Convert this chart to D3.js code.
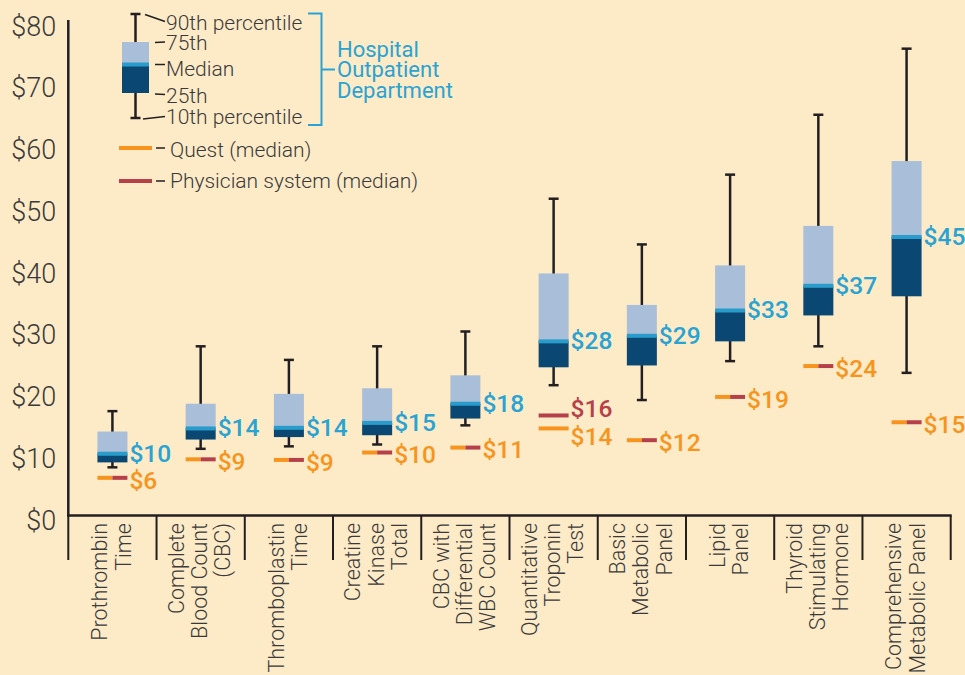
<!DOCTYPE html>
<html>
<head>
<meta charset="utf-8">
<script src="https://cdn.jsdelivr.net/npm/d3@7/dist/d3.min.js"></script>
<style>
  html, body { margin: 0; padding: 0; background: #fdebc8; }
  svg { display: block; font-family: Roboto, "Liberation Sans", sans-serif; }
</style>
</head>
<body>
<svg width="965" height="675"></svg>
<script>
// lab tests, one line of text per array item
var categories = [
  ["Prothrombin", "Time"],
  ["Complete", "Blood Count", "(CBC)"],
  ["Thromboplastin", "Time"],
  ["Creatine", "Kinase", "Total"],
  ["CBC with", "Differential", "WBC Count"],
  ["Quantitative", "Troponin", "Test"],
  ["Basic", "Metabolic", "Panel"],
  ["Lipid", "Panel"],
  ["Thyroid", "Stimulating", "Hormone"],
  ["Comprehensive", "Metabolic Panel"]
];

// hospital outpatient department prices
var p10    = [7.8, 10.8, 11.2, 11.5, 14.6, 21.1, 18.7, 25.0, 27.4, 23.1];
var p25    = [8.6, 12.3, 12.7, 13.0, 15.7, 24.0, 24.3, 28.2, 32.4, 35.5];
var median = [10.0, 14.1, 14.2, 15.0, 18.1, 28.2, 29.1, 33.2, 37.2, 45.1];
var p75    = [13.6, 18.1, 19.7, 20.6, 22.7, 39.2, 34.1, 40.5, 46.9, 57.4];
var p90    = [16.9, 27.4, 25.2, 27.4, 29.8, 51.3, 43.9, 55.2, 64.9, 75.6];

// medians for the other settings
var quest     = [6.1, 9.1, 9.0, 10.2, 11.0, 14.1, 12.2, 19.2, 24.2, 15.1];
var physician = [6.1, 9.1, 9.0, 10.2, 11.0, 16.2, 12.2, 19.2, 24.2, 15.1];

var yTicks = [0, 10, 20, 30, 40, 50, 60, 70, 80];

var colors = {
  light: "#a9bed9",
  band: "#2a9ccb",
  dark: "#0a4873",
  ink: "#231f20",
  quest: "#f7941d",
  phys: "#b5404a",
  blue: "#29a3d2",
  text: "#3a3a3a"
};

var svg = d3.select("svg");

var data = categories.map(function(c, i) {
  return { lines: c, p10: p10[i], p25: p25[i], med: median[i], p75: p75[i], p90: p90[i], quest: quest[i], phys: physician[i] };
});

var x = d3.scaleBand().domain(d3.range(categories.length)).range([68.3, 950.7]).padding(0);
var y = d3.scaleLinear().domain([0, 80]).range([515.5, 21.5]);
var boxW = 30;

// y axis labels
var yAxis = svg.append("g")
  .attr("transform", "translate(68.3,5)")
  .call(d3.axisLeft(y).tickValues(yTicks).tickSize(0).tickPadding(12).tickFormat(function(d) { return "$" + d; }));
yAxis.select(".domain").remove();
yAxis.selectAll("text")
  .attr("fill", colors.text)
  .style("font-size", "27px")
  .style("font-weight", 300)
  .style("font-family", "Roboto, 'Liberation Sans', sans-serif");

// axis lines
svg.append("line")
  .attr("x1", 68.3).attr("x2", 68.3).attr("y1", 20).attr("y2", 516.5)
  .attr("stroke", colors.ink).attr("stroke-width", 2.5);
svg.append("line")
  .attr("x1", 67).attr("x2", x.range()[1] + 1).attr("y1", 515.5).attr("y2", 515.5)
  .attr("stroke", colors.ink).attr("stroke-width", 2.5);

// category separators below axis
var bounds = x.domain().map(function(d) { return x(d); }).concat([x.range()[1]]);
svg.selectAll("line.sep").data(bounds).enter().append("line")
  .attr("class", "sep")
  .attr("x1", function(d) { return d; }).attr("x2", function(d) { return d; })
  .attr("y1", 515.5).attr("y2", 560)
  .attr("stroke", colors.ink).attr("stroke-width", 2);

// category labels, rotated
var lab = svg.selectAll("g.xlab").data(data).enter().append("g")
  .attr("class", "xlab")
  .attr("transform", function(d, i) { return "translate(" + (x(i) + x.bandwidth() / 2 - 1) + ",523) rotate(-90)"; });
lab.each(function(d) {
  var g = d3.select(this);
  var n = d.lines.length;
  d.lines.forEach(function(t, j) {
    g.append("text")
      .attr("x", 0)
      .attr("y", (j - (n - 1) / 2) * 23.3)
      .attr("dy", "0.35em")
      .attr("text-anchor", "end")
      .attr("fill", colors.text)
      .style("font-size", "21.5px")
      .style("font-weight", 300)
      .text(t);
  });
});

// boxes
var box = svg.selectAll("g.box").data(data).enter().append("g")
  .attr("class", "box")
  .attr("transform", function(d, i) { return "translate(" + (x(i) + x.bandwidth() / 2) + ",0)"; });

box.append("line")
  .attr("x1", 0).attr("x2", 0)
  .attr("y1", function(d) { return y(d.p90); })
  .attr("y2", function(d) { return y(d.p10); })
  .attr("stroke", colors.ink).attr("stroke-width", 2.5);
box.append("line")
  .attr("x1", -5).attr("x2", 5)
  .attr("y1", function(d) { return y(d.p90); }).attr("y2", function(d) { return y(d.p90); })
  .attr("stroke", colors.ink).attr("stroke-width", 2.5);
box.append("line")
  .attr("x1", -5).attr("x2", 5)
  .attr("y1", function(d) { return y(d.p10); }).attr("y2", function(d) { return y(d.p10); })
  .attr("stroke", colors.ink).attr("stroke-width", 2.5);

box.append("rect")
  .attr("x", -boxW / 2).attr("width", boxW)
  .attr("y", function(d) { return y(d.p75); })
  .attr("height", function(d) { return y(d.med) - y(d.p75); })
  .attr("fill", colors.light);
box.append("rect")
  .attr("x", -boxW / 2).attr("width", boxW)
  .attr("y", function(d) { return y(d.med); })
  .attr("height", function(d) { return y(d.p25) - y(d.med); })
  .attr("fill", colors.dark);
box.append("rect")
  .attr("x", -boxW / 2).attr("width", boxW)
  .attr("y", function(d) { return y(d.med) - 2; })
  .attr("height", 4)
  .attr("fill", colors.band);

var valFont = "24.5px";
var valWeight = 500;
box.append("text")
  .attr("x", boxW / 2 + 2)
  .attr("y", function(d) { return y(d.med) - 1; })
  .attr("dy", "0.36em")
  .attr("fill", colors.blue)
  .style("font-size", valFont)
  .style("font-weight", valWeight)
  .text(function(d) { return "$" + Math.round(d.med); });

// quest / physician medians
box.each(function(d) {
  var g = d3.select(this);
  var yq = y(d.quest), yp = y(d.phys);
  if (Math.round(d.quest) === Math.round(d.phys)) {
    g.append("line").attr("x1", -boxW / 2).attr("x2", 0).attr("y1", yq).attr("y2", yq)
      .attr("stroke", colors.quest).attr("stroke-width", 4);
    g.append("line").attr("x1", 0).attr("x2", boxW / 2).attr("y1", yp).attr("y2", yp)
      .attr("stroke", colors.phys).attr("stroke-width", 4);
    g.append("text").attr("x", boxW / 2 + 2).attr("y", yq + 2).attr("dy", "0.36em")
      .attr("fill", colors.quest).style("font-size", valFont).style("font-weight", valWeight)
      .text("$" + Math.round(d.quest));
  } else {
    var gap = Math.max(0, (28 - Math.abs(yq - yp)) / 2);
    var sq = yq > yp ? 1 : -1;
    g.append("line").attr("x1", -boxW / 2).attr("x2", boxW / 2).attr("y1", yp).attr("y2", yp)
      .attr("stroke", colors.phys).attr("stroke-width", 4);
    g.append("line").attr("x1", -boxW / 2).attr("x2", boxW / 2).attr("y1", yq).attr("y2", yq)
      .attr("stroke", colors.quest).attr("stroke-width", 4);
    g.append("text").attr("x", boxW / 2 + 2).attr("y", yp - sq * gap).attr("dy", "0.36em")
      .attr("fill", colors.phys).style("font-size", valFont).style("font-weight", valWeight)
      .text("$" + Math.round(d.phys));
    g.append("text").attr("x", boxW / 2 + 2).attr("y", yq + sq * gap).attr("dy", "0.36em")
      .attr("fill", colors.quest).style("font-size", valFont).style("font-weight", valWeight)
      .text("$" + Math.round(d.quest));
  }
});

// legend
var lg = svg.append("g");
var lx = 135.5;
lg.append("line").attr("x1", lx).attr("x2", lx).attr("y1", 14).attr("y2", 118)
  .attr("stroke", colors.ink).attr("stroke-width", 2.5);
[14, 118].forEach(function(v) {
  lg.append("line").attr("x1", lx - 5).attr("x2", lx + 5).attr("y1", v).attr("y2", v)
    .attr("stroke", colors.ink).attr("stroke-width", 2.5);
});
lg.append("rect").attr("x", 122).attr("y", 42).attr("width", 27).attr("height", 21).attr("fill", colors.light);
lg.append("rect").attr("x", 122).attr("y", 63).attr("width", 27).attr("height", 30).attr("fill", colors.dark);
lg.append("rect").attr("x", 122).attr("y", 62.5).attr("width", 27).attr("height", 4).attr("fill", colors.band);

var leaders = [
  [145, 14.5, 165, 21.5],
  [155, 42.5, 165, 42],
  [155, 64.5, 165, 64.5],
  [155, 94, 165, 94.5],
  [143, 119, 165, 116.5],
  [156, 148, 165, 148],
  [156, 181, 165, 181]
];
leaders.forEach(function(l) {
  lg.append("line").attr("x1", l[0]).attr("y1", l[1]).attr("x2", l[2]).attr("y2", l[3])
    .attr("stroke", colors.ink).attr("stroke-width", 1.5);
});
var legendText = [
  ["90th percentile", 166, 23],
  ["75th", 166, 43],
  ["Median", 166, 69],
  ["25th", 166, 96],
  ["10th percentile", 166, 117],
  ["Quest (median)", 170, 150],
  ["Physician system (median)", 170, 181]
];
legendText.forEach(function(t) {
  lg.append("text").attr("x", t[1]).attr("y", t[2]).attr("dy", "0.35em")
    .attr("fill", colors.text).style("font-size", "21px").style("font-weight", 300)
    .text(t[0]);
});
lg.append("line").attr("x1", 119).attr("x2", 152).attr("y1", 148).attr("y2", 148)
  .attr("stroke", colors.quest).attr("stroke-width", 4);
lg.append("line").attr("x1", 119).attr("x2", 152).attr("y1", 181).attr("y2", 181)
  .attr("stroke", colors.phys).attr("stroke-width", 4);

// bracket for hospital outpatient department
lg.append("path")
  .attr("d", "M308,13.5 H321.5 V125 H308 M321.5,69.5 H335")
  .attr("fill", "none").attr("stroke", colors.blue).attr("stroke-width", 2);
["Hospital", "Outpatient", "Department"].forEach(function(t, j) {
  lg.append("text").attr("x", 337).attr("y", 49 + j * 20.7).attr("dy", "0.35em")
    .attr("fill", colors.blue).style("font-size", "22px").style("font-weight", 400)
    .text(t);
});
</script>
</body>
</html>
